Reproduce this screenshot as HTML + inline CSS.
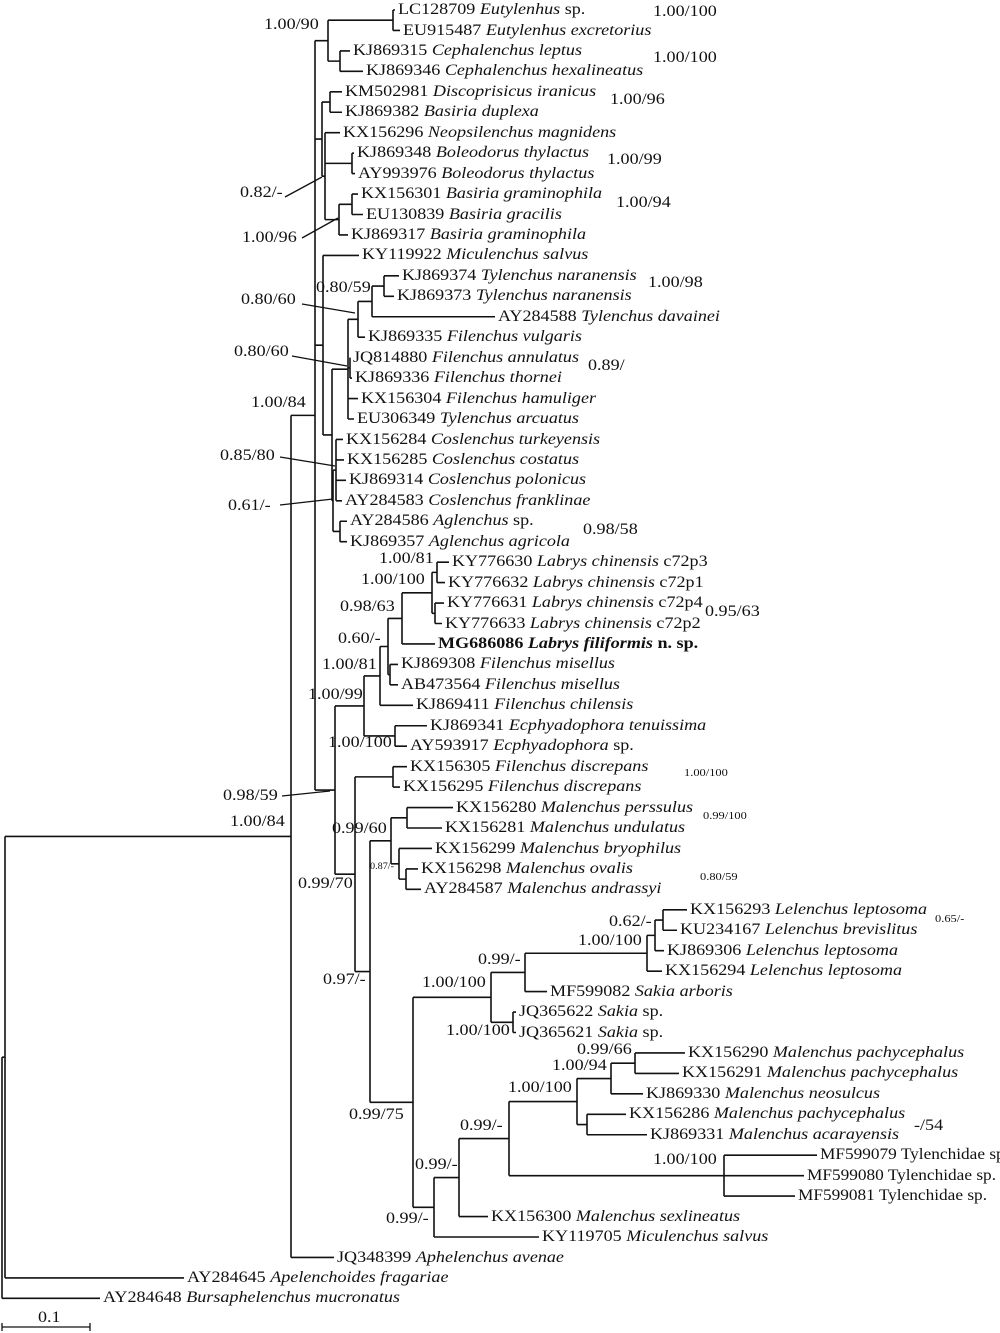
<!DOCTYPE html>
<html><head><meta charset="utf-8">
<style>
html,body{margin:0;padding:0;background:#fff;}
#w{position:relative;width:1000px;height:1333px;overflow:hidden;background:#fff;}
svg{position:absolute;left:0;top:0;}
.t{position:absolute;white-space:nowrap;font-family:"Liberation Serif",serif;font-size:16px;line-height:18px;color:#111;transform:scaleX(1.13);transform-origin:0 50%;}
.n{transform:scaleX(1.08);}
.s{font-size:11px;line-height:14px;}
.xs{font-size:9px;line-height:12px;}
i{font-style:italic;}
</style></head><body><div id="w">
<svg id="sv" width="1000" height="1333" viewBox="0 0 1000 1333">
<g stroke="#111" stroke-width="1.3" fill="none">
<line x1="285" y1="197" x2="322" y2="177"/>
<line x1="302" y1="238" x2="338" y2="218"/>
<line x1="302" y1="304" x2="355" y2="313"/>
<line x1="292" y1="356" x2="347" y2="366"/>
<line x1="280" y1="457" x2="335" y2="466"/>
<line x1="280" y1="505" x2="333" y2="499"/>
<line x1="282" y1="796" x2="330" y2="791"/>
<line x1="2" y1="1327" x2="90" y2="1327"/>
<line x1="2" y1="1323" x2="2" y2="1331"/>
<line x1="90" y1="1323" x2="90" y2="1331"/>
</g>
<g id="tree" stroke="#111" stroke-width="1.6" fill="none"></g>
</svg>

<div class="t" style="left:398px;top:1px">LC128709 <i>Eutylenhus</i> sp.</div>
<div class="t" style="left:403px;top:21.5px">EU915487 <i>Eutylenhus excretorius</i></div>
<div class="t" style="left:353px;top:42px">KJ869315 <i>Cephalenchus leptus</i></div>
<div class="t" style="left:366px;top:62px">KJ869346 <i>Cephalenchus hexalineatus</i></div>
<div class="t" style="left:345px;top:83px">KM502981 <i>Discoprisicus iranicus</i></div>
<div class="t" style="left:345px;top:103px">KJ869382 <i>Basiria duplexa</i></div>
<div class="t" style="left:343px;top:124px">KX156296 <i>Neopsilenchus magnidens</i></div>
<div class="t" style="left:357px;top:144px">KJ869348 <i>Boleodorus thylactus</i></div>
<div class="t" style="left:358px;top:165px">AY993976 <i>Boleodorus thylactus</i></div>
<div class="t" style="left:361px;top:185px">KX156301 <i>Basiria graminophila</i></div>
<div class="t" style="left:366px;top:205.5px">EU130839 <i>Basiria gracilis</i></div>
<div class="t" style="left:351px;top:226px">KJ869317 <i>Basiria graminophila</i></div>
<div class="t" style="left:362px;top:246px">KY119922 <i>Miculenchus salvus</i></div>
<div class="t" style="left:402px;top:267px">KJ869374 <i>Tylenchus naranensis</i></div>
<div class="t" style="left:397px;top:287px">KJ869373 <i>Tylenchus naranensis</i></div>
<div class="t" style="left:498px;top:308px">AY284588 <i>Tylenchus davainei</i></div>
<div class="t" style="left:368px;top:328px">KJ869335 <i>Filenchus vulgaris</i></div>
<div class="t" style="left:353px;top:349px">JQ814880 <i>Filenchus annulatus</i></div>
<div class="t" style="left:355px;top:369px">KJ869336 <i>Filenchus thornei</i></div>
<div class="t" style="left:361px;top:389.5px">KX156304 <i>Filenchus hamuliger</i></div>
<div class="t" style="left:357px;top:410px">EU306349 <i>Tylenchus arcuatus</i></div>
<div class="t" style="left:346px;top:430.5px">KX156284 <i>Coslenchus turkeyensis</i></div>
<div class="t" style="left:347px;top:451px">KX156285 <i>Coslenchus costatus</i></div>
<div class="t" style="left:349px;top:471px">KJ869314 <i>Coslenchus polonicus</i></div>
<div class="t" style="left:345px;top:492px">AY284583 <i>Coslenchus franklinae</i></div>
<div class="t" style="left:350px;top:512px">AY284586 <i>Aglenchus</i> sp.</div>
<div class="t" style="left:350px;top:533px">KJ869357 <i>Aglenchus agricola</i></div>
<div class="t" style="left:452px;top:553px">KY776630 <i>Labrys chinensis</i> c72p3</div>
<div class="t" style="left:448px;top:574px">KY776632 <i>Labrys chinensis</i> c72p1</div>
<div class="t" style="left:447px;top:594px">KY776631 <i>Labrys chinensis</i> c72p4</div>
<div class="t" style="left:445px;top:614.5px">KY776633 <i>Labrys chinensis</i> c72p2</div>
<div class="t" style="left:438px;top:635px;font-weight:bold">MG686086 <i>Labrys filiformis</i> n. sp.</div>
<div class="t" style="left:401px;top:655px">KJ869308 <i>Filenchus misellus</i></div>
<div class="t" style="left:401px;top:676px">AB473564 <i>Filenchus misellus</i></div>
<div class="t" style="left:416px;top:696px">KJ869411 <i>Filenchus chilensis</i></div>
<div class="t" style="left:430px;top:717px">KJ869341 <i>Ecphyadophora tenuissima</i></div>
<div class="t" style="left:410px;top:737px">AY593917 <i>Ecphyadophora</i> sp.</div>
<div class="t" style="left:410px;top:758px">KX156305 <i>Filenchus discrepans</i></div>
<div class="t" style="left:403px;top:778px">KX156295 <i>Filenchus discrepans</i></div>
<div class="t" style="left:456px;top:798.5px">KX156280 <i>Malenchus perssulus</i></div>
<div class="t" style="left:445px;top:819px">KX156281 <i>Malenchus undulatus</i></div>
<div class="t" style="left:435px;top:839.5px">KX156299 <i>Malenchus bryophilus</i></div>
<div class="t" style="left:421px;top:860px">KX156298 <i>Malenchus ovalis</i></div>
<div class="t" style="left:424px;top:880px">AY284587 <i>Malenchus andrassyi</i></div>
<div class="t" style="left:690px;top:901px">KX156293 <i>Lelenchus leptosoma</i></div>
<div class="t" style="left:680px;top:921px">KU234167 <i>Lelenchus brevislitus</i></div>
<div class="t" style="left:667px;top:942px">KJ869306 <i>Lelenchus leptosoma</i></div>
<div class="t" style="left:665px;top:962px">KX156294 <i>Lelenchus leptosoma</i></div>
<div class="t" style="left:550px;top:983px">MF599082 <i>Sakia arboris</i></div>
<div class="t" style="left:519px;top:1003px">JQ365622 <i>Sakia</i> sp.</div>
<div class="t" style="left:519px;top:1023.5px">JQ365621 <i>Sakia</i> sp.</div>
<div class="t" style="left:688px;top:1044px">KX156290 <i>Malenchus pachycephalus</i></div>
<div class="t" style="left:682px;top:1064px">KX156291 <i>Malenchus pachycephalus</i></div>
<div class="t" style="left:646px;top:1085px">KJ869330 <i>Malenchus neosulcus</i></div>
<div class="t" style="left:629px;top:1105px">KX156286 <i>Malenchus pachycephalus</i></div>
<div class="t" style="left:650px;top:1126px">KJ869331 <i>Malenchus acarayensis</i></div>
<div class="t n" style="left:820px;top:1146px">MF599079 Tylenchidae sp.</div>
<div class="t n" style="left:807px;top:1167px">MF599080 Tylenchidae sp.</div>
<div class="t n" style="left:798px;top:1187px">MF599081 Tylenchidae sp.</div>
<div class="t" style="left:491px;top:1207.5px">KX156300 <i>Malenchus sexlineatus</i></div>
<div class="t" style="left:542px;top:1228px">KY119705 <i>Miculenchus salvus</i></div>
<div class="t" style="left:337px;top:1248.5px">JQ348399 <i>Aphelenchus avenae</i></div>
<div class="t" style="left:187px;top:1269px">AY284645 <i>Apelenchoides fragariae</i></div>
<div class="t" style="left:103px;top:1289px">AY284648 <i>Bursaphelenchus mucronatus</i></div>

<div class="t" style="left:264px;top:16px">1.00/90</div>
<div class="t" style="left:653px;top:3px">1.00/100</div>
<div class="t" style="left:653px;top:49px">1.00/100</div>
<div class="t" style="left:610px;top:91px">1.00/96</div>
<div class="t" style="left:607px;top:151px">1.00/99</div>
<div class="t" style="left:616px;top:194px">1.00/94</div>
<div class="t" style="left:240px;top:184px">0.82/-</div>
<div class="t" style="left:242px;top:229px">1.00/96</div>
<div class="t" style="left:316px;top:279px">0.80/59</div>
<div class="t" style="left:241px;top:291px">0.80/60</div>
<div class="t" style="left:648px;top:274px">1.00/98</div>
<div class="t" style="left:234px;top:343px">0.80/60</div>
<div class="t" style="left:588px;top:357px">0.89/</div>
<div class="t" style="left:251px;top:394px">1.00/84</div>
<div class="t" style="left:220px;top:447px">0.85/80</div>
<div class="t" style="left:228px;top:497px">0.61/-</div>
<div class="t" style="left:583px;top:521px">0.98/58</div>
<div class="t" style="left:379px;top:550px">1.00/81</div>
<div class="t" style="left:361px;top:571px">1.00/100</div>
<div class="t" style="left:340px;top:598px">0.98/63</div>
<div class="t" style="left:705px;top:603px">0.95/63</div>
<div class="t" style="left:338px;top:630px">0.60/-</div>
<div class="t" style="left:322px;top:656px">1.00/81</div>
<div class="t" style="left:308px;top:686px">1.00/99</div>
<div class="t" style="left:328px;top:734px">1.00/100</div>
<div class="t s" style="left:684px;top:766px">1.00/100</div>
<div class="t" style="left:223px;top:787px">0.98/59</div>
<div class="t" style="left:230px;top:813px">1.00/84</div>
<div class="t s" style="left:703px;top:809px">0.99/100</div>
<div class="t" style="left:332px;top:820px">0.99/60</div>
<div class="t xs" style="left:370px;top:860px">0.87/-</div>
<div class="t s" style="left:700px;top:870px">0.80/59</div>
<div class="t" style="left:298px;top:875px">0.99/70</div>
<div class="t s" style="left:935px;top:912px">0.65/-</div>
<div class="t" style="left:609px;top:913px">0.62/-</div>
<div class="t" style="left:578px;top:932px">1.00/100</div>
<div class="t" style="left:323px;top:971px">0.97/-</div>
<div class="t" style="left:478px;top:951px">0.99/-</div>
<div class="t" style="left:422px;top:974px">1.00/100</div>
<div class="t" style="left:446px;top:1022px">1.00/100</div>
<div class="t" style="left:577px;top:1041px">0.99/66</div>
<div class="t" style="left:552px;top:1057px">1.00/94</div>
<div class="t" style="left:508px;top:1079px">1.00/100</div>
<div class="t" style="left:914px;top:1117px">-/54</div>
<div class="t" style="left:460px;top:1117px">0.99/-</div>
<div class="t" style="left:349px;top:1106px">0.99/75</div>
<div class="t" style="left:653px;top:1151px">1.00/100</div>
<div class="t" style="left:415px;top:1156px">0.99/-</div>
<div class="t" style="left:386px;top:1210px">0.99/-</div>
<div class="t" style="left:38px;top:1309px">0.1</div>
</div>
<script>
(function(){
var TS=[0,398,403,353,366,345,345,343,357,358,361,366,351,362,402,397,498,368,353,355,361,357,346,347,349,345,350,350,452,448,447,445,438,401,401,416,430,410,410,403,456,445,435,421,424,690,680,667,665,550,519,519,688,682,646,629,650,820,807,798,491,542,337,187,103];
function N(x,c){return {x:x,c:c};}
function ly(i){return 10+(i-1)*20.45;}
var n393=N(393,[1,2]),n340=N(340,[3,4]),n328=N(328,[n393,n340]);
var n330=N(330,[5,6]),n352a=N(352,[8,9]),n352b=N(352,[10,11]),n339=N(339,[n352b,12]);
var n325=N(325,[7,n352a,n339]),n322=N(322,[n330,n325]);
var n384=N(384,[14,15]),n372=N(372,[n384,16]),n358=N(358,[n372,17]),n350=N(350,[18,19]);
var n348=N(348,[n358,n350,20,21]),n336=N(336,[22,23,24,25]),n340b=N(340,[26,27]);
var n333=N(333,[n336,n340b]),n332=N(332,[n348,n333]),n323=N(323,[13,n332]);
var n437=N(437,[28,29]),n435=N(435,[30,31]),n432=N(432,[n437,n435]),n402=N(402,[n432,32]);
var n390=N(390,[33,34]),n388=N(388,[n402,n390]),n380=N(380,[n388,35]),n395=N(395,[36,37]),n364=N(364,[n380,n395]);
var n393d=N(393,[38,39]);
var n407=N(407,[40,41]),n406=N(406,[43,44]),n399=N(399,[42,n406]),n391=N(391,[n407,n399]);
var n663=N(663,[45,46]),n655=N(655,[n663,47]),n647=N(647,[n655,48]),n525=N(525,[n647,49]),n513=N(513,[50,51]),n491=N(491,[n525,n513]);
var n635=N(635,[52,53]),n611=N(611,[n635,54]),n587=N(587,[55,56]),n577=N(577,[n611,n587]),n724=N(724,[57,58,59]);
var n509=N(509,[n577,n724]),n459=N(459,[n509,60]),n434=N(434,[n459,61]),n413=N(413,[n491,n434]);
var n370=N(370,[n391,n413]),n355=N(355,[n393d,n370]),n335=N(335,[n364,n355]);
var n315=N(315,[n328,n322,n323,n335]),n291=N(291,[n315,62]),n5=N(5,[n291,63]),root=N(2,[n5,64]);
var d="";
function Y(n){ if(typeof n==="number") return ly(n); if(n.y!==undefined) return n.y;
  var a=Y(n.c[0]),b=Y(n.c[n.c.length-1]); n.y=(a+b)/2; return n.y;}
function draw(n){ var ys=n.c.map(Y);
  d+="M"+n.x+" "+Math.min.apply(null,ys)+"V"+Math.max.apply(null,ys);
  n.c.forEach(function(c,k){ var ex=(typeof c==="number")?TS[c]-3:c.x;
    d+="M"+n.x+" "+ys[k]+"H"+ex; if(typeof c!=="number") draw(c);});}
Y(root);draw(root);
var p=document.createElementNS("http://www.w3.org/2000/svg","path");
p.setAttribute("d",d);document.getElementById("tree").appendChild(p);
})();
</script>
</body></html>
